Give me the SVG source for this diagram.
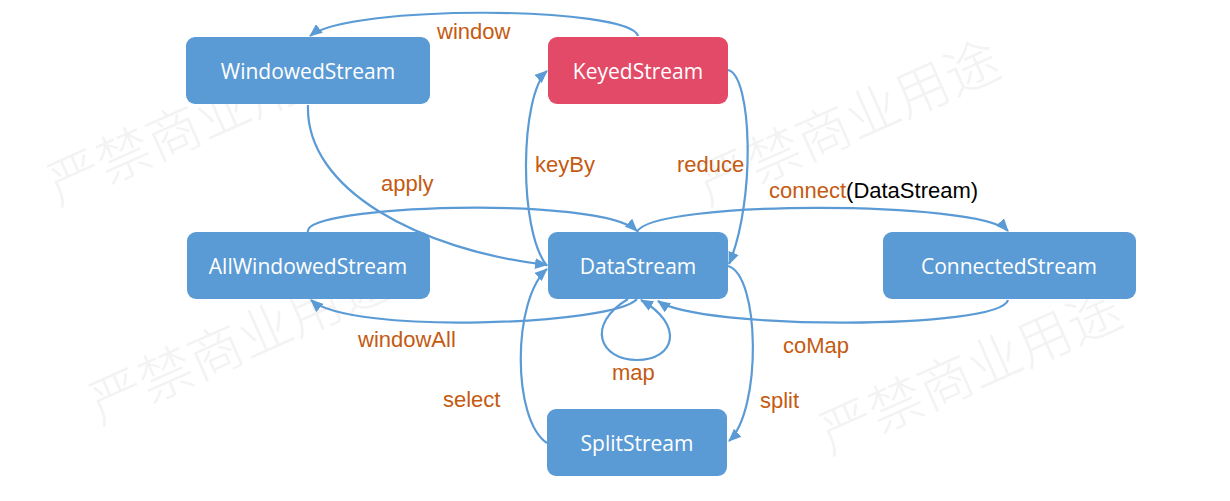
<svg xmlns="http://www.w3.org/2000/svg" width="1230" height="501" viewBox="0 0 1230 501">
<defs>
<style>
.wm{font-family:"Noto Sans CJK SC","Noto Sans",sans-serif;font-size:54px;fill:#f3f3f3;font-weight:300}
.node{fill:#5B9BD5}
.key{fill:#E24A67}
.nt{font-family:"Open Sans","Noto Sans",sans-serif;font-size:21px;fill:#ffffff;text-anchor:middle}
.edge{fill:none;stroke:#5B9BD5;stroke-width:2.2}
.lbl{font-family:"Liberation Sans",Arial,sans-serif;font-size:22px;fill:#C55A11}
.blk{fill:#000000}
</style>
<marker id="arr" markerWidth="13" markerHeight="11" refX="12" refY="5.5" orient="auto" markerUnits="userSpaceOnUse">
<path d="M0,0 L13,5.5 L0,11 Z" fill="#5B9BD5"/>
</marker>
</defs>
<rect width="1230" height="501" fill="#ffffff"/>
<g id="watermark">
<text class="wm" x="58" y="206" transform="rotate(-24 58 206)">严禁商业用途</text>
<text class="wm" x="708" y="206" transform="rotate(-24 708 206)">严禁商业用途</text>
<text class="wm" x="100" y="425" transform="rotate(-24 100 425)">严禁商业用途</text>
<text class="wm" x="830" y="455" transform="rotate(-24 830 455)">严禁商业用途</text>
</g>
<g id="connectors">
<path class="edge" marker-end="url(#arr)" d="M638,36 C630,6 350,4 310,36"/>
<path class="edge" marker-end="url(#arr)" d="M308,105 C305,190 420,250 547,265"/>
<path class="edge" marker-end="url(#arr)" d="M308,232 C300,205 600,195 637,231"/>
<path class="edge" marker-end="url(#arr)" d="M637,232 C650,200 980,200 1008,231"/>
<path class="edge" marker-end="url(#arr)" d="M547,266 C518,230 520,95 547,71"/>
<path class="edge" marker-end="url(#arr)" d="M547,443 C512,420 512,300 547,269"/>
<path class="edge" marker-end="url(#arr)" d="M728,70 C752,75 756,200 729,264"/>
<path class="edge" marker-end="url(#arr)" d="M728,266 C760,275 762,410 729,441"/>
<path class="edge" marker-end="url(#arr)" d="M637,299 C615,325 350,335 311,300"/>
<path class="edge" marker-end="url(#arr)" d="M1008,300 C1000,330 700,330 658,301"/>
<path class="edge" marker-end="url(#arr)" d="M628,299 C585,325 600,360 637,360 C675,360 685,325 641,300"/>
<text class="lbl" x="437" y="39">window</text>
<text class="lbl" x="381" y="191">apply</text>
<text class="lbl" x="535" y="172">keyBy</text>
<text class="lbl" x="677" y="172">reduce</text>
<text class="lbl" x="769" y="198">connect<tspan class="blk">(DataStream)</tspan></text>
<text class="lbl" x="358" y="347">windowAll</text>
<text class="lbl" x="443" y="407">select</text>
<text class="lbl" x="612" y="380">map</text>
<text class="lbl" x="760" y="408">split</text>
<text class="lbl" x="783" y="353">coMap</text>
</g>
<g id="WindowedStream">
<rect class="node" x="186" y="37" width="244" height="67" rx="9"/>
<text class="nt" x="308" y="79">WindowedStream</text>
</g>
<g id="KeyedStream">
<rect class="key" x="548" y="37" width="180" height="67" rx="9"/>
<text class="nt" x="638" y="79">KeyedStream</text>
</g>
<g id="AllWindowedStream">
<rect class="node" x="187" y="232" width="243" height="67" rx="9"/>
<text class="nt" x="308" y="274">AllWindowedStream</text>
</g>
<g id="DataStream">
<rect class="node" x="548" y="232" width="180" height="67" rx="9"/>
<text class="nt" x="638" y="274">DataStream</text>
</g>
<g id="ConnectedStream">
<rect class="node" x="883" y="232" width="253" height="67" rx="9"/>
<text class="nt" x="1009" y="274">ConnectedStream</text>
</g>
<g id="SplitStream">
<rect class="node" x="547" y="409" width="180" height="67" rx="9"/>
<text class="nt" x="637" y="451">SplitStream</text>
</g>
</svg>
